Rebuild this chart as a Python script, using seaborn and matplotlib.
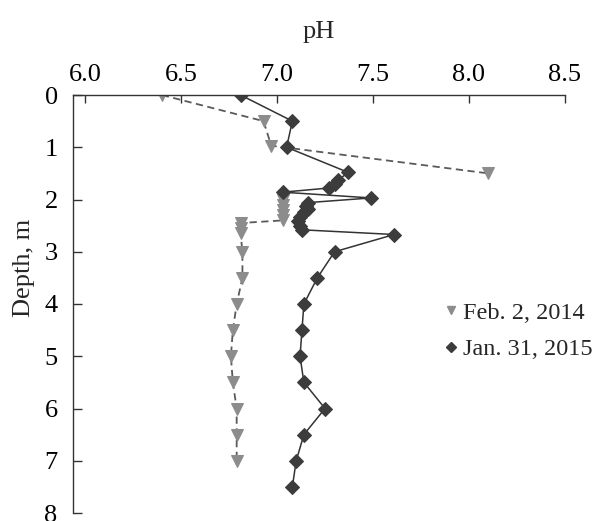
import numpy as np
import pandas as pd
import matplotlib
matplotlib.use("Agg")
import matplotlib.pyplot as plt
import seaborn as sns
from matplotlib.lines import Line2D

# ---- data ----
feb_depth = [0, 0.5, 0.97, 1.5, 2.0, 2.1, 2.2, 2.3, 2.4, 2.45, 2.55, 2.65,
             3.0, 3.5, 4.0, 4.5, 5.0, 5.5, 6.0, 6.5, 7.0]
feb_ph = [6.40, 6.93, 6.97, 8.10, 7.03, 7.03, 7.03, 7.03, 7.03, 6.81, 6.81, 6.81,
          6.82, 6.82, 6.79, 6.77, 6.76, 6.77, 6.79, 6.79, 6.79]
feb_segment = [0, 0, 0, 0, 1, 1, 1, 1, 1, 1, 1, 1,
               1, 1, 1, 1, 1, 1, 1, 1, 1]

jan_depth = [0, 0.5, 1.0, 1.48, 1.63, 1.7, 1.78, 1.86, 1.97, 2.06, 2.12, 2.18,
             2.24, 2.34, 2.42, 2.5, 2.58, 2.67, 3.0, 3.5, 4.0, 4.5, 5.0, 5.5,
             6.0, 6.5, 7.0, 7.5]
jan_ph = [6.81, 7.08, 7.05, 7.37, 7.32, 7.30, 7.27, 7.03, 7.49, 7.16, 7.15, 7.16,
          7.14, 7.12, 7.11, 7.12, 7.13, 7.61, 7.30, 7.21, 7.14, 7.13, 7.12, 7.14,
          7.25, 7.14, 7.10, 7.08]

x_ticks = [6.0, 6.5, 7.0, 7.5, 8.0, 8.5]
y_ticks = [0, 1, 2, 3, 4, 5, 6, 7, 8]
series_labels = ["Feb. 2, 2014", "Jan. 31, 2015"]

# ---- style ----
sns.set_style("ticks")
plt.rcParams["font.family"] = ["Liberation Serif", "DejaVu Serif"]

fig = plt.figure(figsize=(6.02, 5.21), dpi=100)
ax = fig.add_axes([73 / 602, 1 - 513 / 521, 492 / 602, 418 / 521])

df_feb = pd.DataFrame({"pH": feb_ph, "Depth": feb_depth, "seg": feb_segment})
df_jan = pd.DataFrame({"pH": jan_ph, "Depth": jan_depth})

sns.lineplot(data=df_feb, x="pH", y="Depth", units="seg", estimator=None,
             sort=False, orient="y", color="#5a5a5a", linestyle=(0, (4, 2.5)),
             linewidth=1.3, marker="v", markersize=8,
             markerfacecolor="#8c8c8c", markeredgecolor="#8c8c8c", ax=ax)
sns.lineplot(data=df_jan, x="pH", y="Depth", estimator=None,
             sort=False, orient="y", color="#333333", linewidth=1.1,
             marker="D", markersize=7,
             markerfacecolor="#3c3c3c", markeredgecolor="#3c3c3c", ax=ax)

ax.set_xlim(5.9375, 8.5)
ax.set_ylim(8, 0)
ax.xaxis.tick_top()
ax.xaxis.set_label_position("top")
ax.set_xticks(x_ticks)
ax.set_xticklabels([f"{v:.1f}" for v in x_ticks])
ax.set_yticks(y_ticks)
ax.set_yticklabels([str(v) for v in y_ticks])

for s in ["right", "bottom"]:
    ax.spines[s].set_visible(False)
for s in ["top", "left"]:
    ax.spines[s].set_color("#333333")
    ax.spines[s].set_linewidth(1.0)

ax.tick_params(axis="x", direction="in", length=6, width=1, colors="#333333",
               labelcolor="black", labelsize=19, pad=6.5)
ax.tick_params(axis="y", direction="in", length=6.5, width=1, colors="#333333",
               labelcolor="black", labelsize=19, pad=11)

ax.set_xlabel("pH", fontsize=19, labelpad=19)
ax.set_ylabel("Depth, m", fontsize=19)
ax.yaxis.set_label_coords(-0.077, 0.586)

handles = [
    Line2D([], [], marker="v", color="#8c8c8c", linestyle="none", markersize=6),
    Line2D([], [], marker="D", color="#3c3c3c", linestyle="none", markersize=5),
]
ax.legend(handles, series_labels, loc="center left", bbox_to_anchor=(0.754, 0.435),
          frameon=False, fontsize=17.5, handlelength=0.6, handletextpad=0.2,
          borderpad=0, borderaxespad=0, labelspacing=0.6)

fig.savefig("out.png", dpi=100)
